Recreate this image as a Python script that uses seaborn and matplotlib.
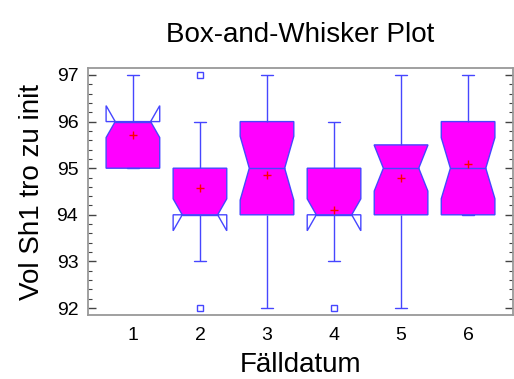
import numpy as np
import pandas as pd
import matplotlib
matplotlib.use("Agg")
import matplotlib.pyplot as plt
from matplotlib.patches import PathPatch
from matplotlib.path import Path
from matplotlib.ticker import MultipleLocator
import seaborn as sns

# Measured volumes (integer levels) and how often each level occurs per date
levels = [92, 93, 94, 95, 96, 97]
dates = ["1", "2", "3", "4", "5", "6"]
counts_1 = [0, 0, 0, 7, 13, 1]
counts_2 = [1, 1, 9, 6, 3, 1]
counts_3 = [1, 2, 5, 6, 5, 2]
counts_4 = [1, 3, 11, 5, 1, 0]
counts_5 = [1, 1, 7, 8, 5, 1]
counts_6 = [0, 0, 7, 8, 7, 1]
yticks = [92, 93, 94, 95, 96, 97]

all_counts = [counts_1, counts_2, counts_3, counts_4, counts_5, counts_6]
df = pd.concat(
    [pd.DataFrame({"Fälldatum": d, "vol": np.repeat(levels, c)})
     for d, c in zip(dates, all_counts)],
    ignore_index=True,
)

BLUE = "#4646FF"
FILL = "#FF00FF"
BOX_W = 0.8

sns.set_style("white")
plt.rcParams["font.family"] = ["Liberation Sans", "DejaVu Sans"]
plt.rcParams["text.color"] = "black"
plt.rcParams["axes.labelcolor"] = "black"
plt.rcParams["xtick.color"] = "black"
plt.rcParams["ytick.color"] = "black"

fig = plt.figure(figsize=(5.14, 3.79), dpi=100)
ax = fig.add_axes([88 / 514, 1 - 315 / 379, (513 - 88) / 514, (315 - 68) / 379])

sns.boxplot(
    data=df, x="Fälldatum", y="vol", order=dates, ax=ax,
    notch=True, width=BOX_W, color=FILL, saturation=1,
    linecolor=BLUE, linewidth=1.0, capwidths=0.18,
    showmeans=True,
    meanprops=dict(marker="+", markeredgecolor="red", markerfacecolor="red",
                   markersize=5.5, markeredgewidth=1.0),
    flierprops=dict(marker="s", markersize=4, markerfacecolor="white",
                    markeredgecolor=BLUE, markeredgewidth=1.0),
)

# Widen the notch waist, and fill only the body between the hinges so that
# notches reaching past the quartiles show as open outlines.
half_notch = 0.33 * BOX_W
boxes = [p for p in ax.patches if isinstance(p, PathPatch)]
for patch in boxes:
    verts = patch.get_path().vertices.copy()
    codes = patch.get_path().codes
    center = 0.5 * (verts[0, 0] + verts[1, 0])
    verts[3, 0] = center + half_notch
    verts[8, 0] = center - half_notch
    q1, q3 = verts[0, 1], verts[5, 1]
    patch.set_path(Path(verts, codes))
    body = verts.copy()
    body[:, 1] = np.clip(body[:, 1], q1, q3)
    fill = PathPatch(Path(body, codes), facecolor=FILL, edgecolor="none",
                     zorder=patch.get_zorder() - 0.05)
    ax.add_patch(fill)
    patch.set_facecolor("none")

    for line in ax.lines:
        x, y = np.asarray(line.get_xdata(), float), np.asarray(line.get_ydata(), float)
        if len(x) == 2 and y[0] == y[1] and abs((x[1] - x[0]) - 0.5 * BOX_W) < 1e-6 \
                and abs(0.5 * (x[0] + x[1]) - center) < 1e-6:
            line.set_xdata([center - half_notch, center + half_notch])

ax.set_xlim(-0.67, 5.67)
ax.set_ylim(91.85, 97.15)
ax.set_yticks(yticks)
ax.yaxis.set_minor_locator(MultipleLocator(0.2))

ax.tick_params(axis="y", which="both", direction="in", left=True, right=True,
               color="#444444", labelsize=14, pad=7, labelcolor="black")
ax.tick_params(axis="y", which="major", length=5.5, width=1)
ax.tick_params(axis="y", which="minor", length=3, width=0.8)
ax.tick_params(axis="x", bottom=False, labelsize=14, pad=5, labelcolor="black")

for side in ["left", "bottom", "top", "right"]:
    ax.spines[side].set_visible(True)
    ax.spines[side].set_color("#999999")
    ax.spines[side].set_linewidth(1.3)

ax.set_xlabel("Fälldatum", fontsize=20, labelpad=6, color="black")
ax.set_ylabel("Vol Sh1 tro zu init", fontsize=20, labelpad=8, color="black")
ax.set_title("Box-and-Whisker Plot", fontsize=20, pad=19, color="black")

fig.savefig("out.png", dpi=100)
